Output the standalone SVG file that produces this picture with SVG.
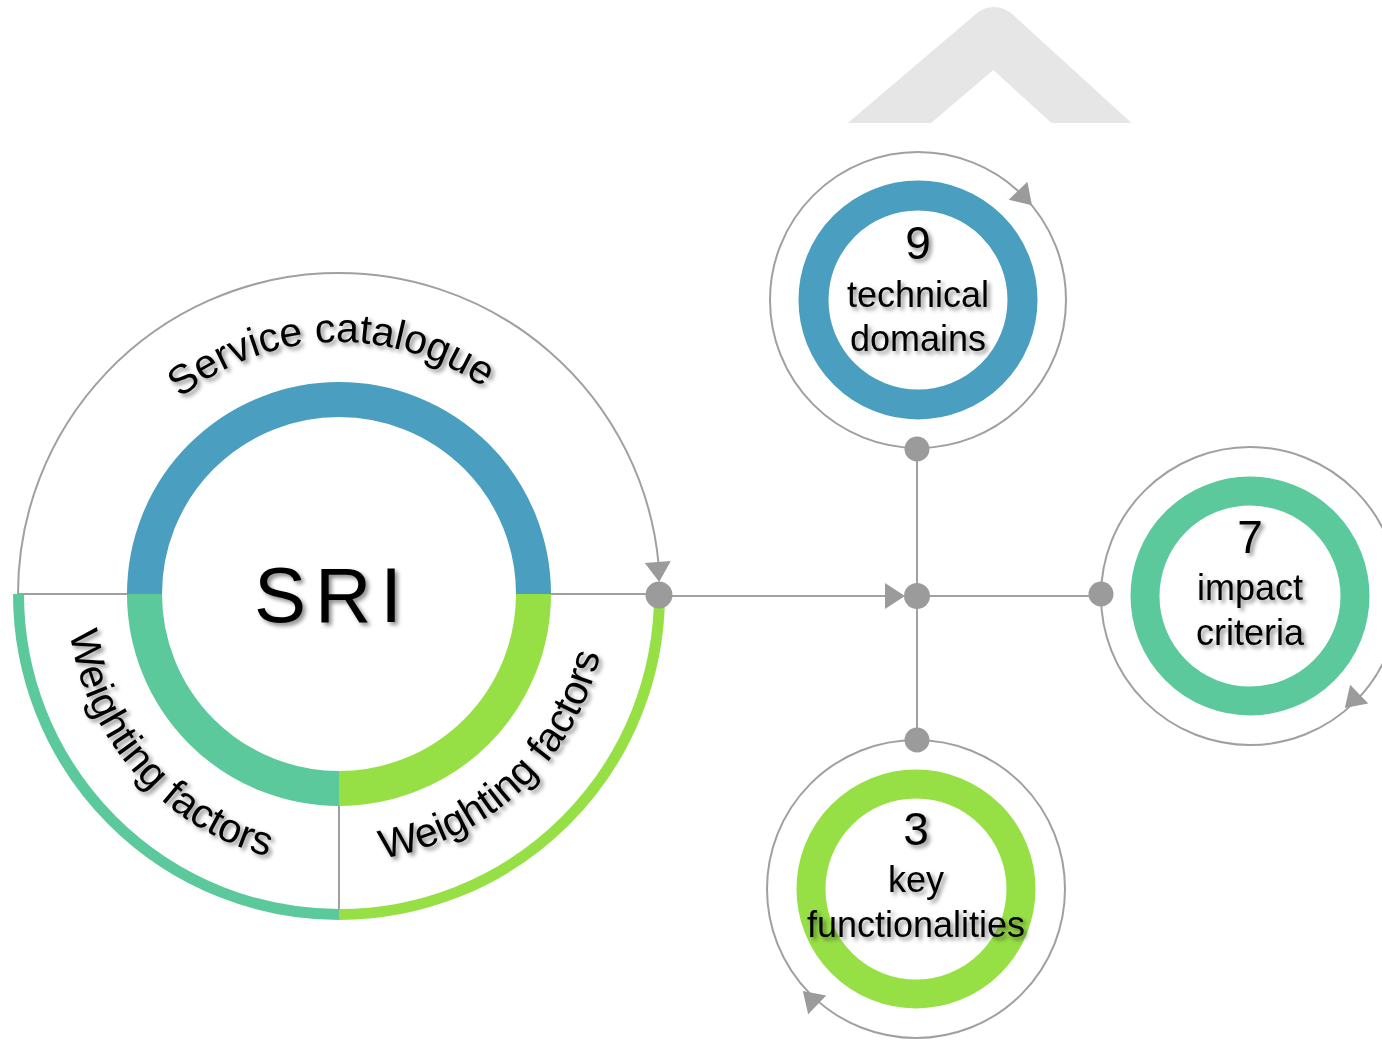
<svg xmlns="http://www.w3.org/2000/svg" width="1382" height="1051" viewBox="0 0 1382 1051">
  <defs>
    <style>
      .thin{fill:none;stroke:#a0a0a0;stroke-width:2}
      .ring{fill:none}
      .blue{stroke:#4a9ebf}
      .teal{stroke:#5bc99b}
      .green{stroke:#96e046}
      .dot{fill:#9b9b9b}
      .lbl{font-family:"Liberation Sans",Arial,sans-serif;fill:#000;filter:url(#shadow)}
    </style>
    <filter id="shadow" x="-20%" y="-20%" width="140%" height="140%">
      <feDropShadow dx="3" dy="3" stdDeviation="2" flood-color="#000" flood-opacity="0.45"/>
    </filter>
    <path id="ah" d="M-10,-13 L10,0 L-10,13 Z" fill="#9b9b9b"/>
    <clipPath id="clipTop"><rect x="0" y="0" width="1382" height="123"/></clipPath>
    <path id="arcSC" d="M87,594 A252,252 0 0 1 591,594"/>
    <path id="arcWL" d="M67,594 A272,272 0 0 0 339,866"/>
    <path id="arcWR" d="M339,862 A268,268 0 0 0 607,594"/>
  </defs>

  <rect width="1382" height="1051" fill="#fff"/>

  <!-- light chevron at the top -->
  <g id="chevron" clip-path="url(#clipTop)">
    <polyline points="846,160 994,34 1132,160" fill="none" stroke="#e6e6e6" stroke-width="54" stroke-linejoin="round"/>
  </g>

  <!-- SRI hub -->
  <g id="sri">
    <path class="thin" d="M18,594 A321,321 0 0 1 658.5,563"/>
    <path class="thin" d="M18,594 H127 M551,594 H659 M339,806 V914"/>
    <path class="ring teal" stroke-width="11" d="M18.5,594 A320.5,320.5 0 0 0 339,914.5"/>
    <path class="ring green" stroke-width="11" d="M339,914.5 A320.5,320.5 0 0 0 659.5,594"/>
    <path class="ring blue" stroke-width="35" d="M144.5,594 A194.5,194.5 0 0 1 533.5,594"/>
    <path class="ring teal" stroke-width="35" d="M144.5,594 A194.5,194.5 0 0 0 339,788.5"/>
    <path class="ring green" stroke-width="35" d="M339,788.5 A194.5,194.5 0 0 0 533.5,594"/>
    <use href="#ah" transform="translate(658.5,572) rotate(86)"/>
    <text class="lbl" font-size="78" letter-spacing="9" x="254" y="622">SRI</text>
    <text class="lbl" font-size="41" text-anchor="middle"><textPath href="#arcSC" startOffset="387">Service catalogue</textPath></text>
    <text class="lbl" font-size="41" text-anchor="middle"><textPath href="#arcWL" startOffset="197">Weighting factors</textPath></text>
    <text class="lbl" font-size="41" text-anchor="middle"><textPath href="#arcWR" startOffset="202">Weighting factors</textPath></text>
  </g>

  <!-- satellite nodes -->
  <g id="node-domains">
    <circle class="thin" cx="918" cy="300" r="148"/>
    <circle class="ring blue" stroke-width="30" cx="918" cy="300" r="104.5"/>
    <use href="#ah" transform="translate(1025,198) rotate(46)"/>
    <text class="lbl" text-anchor="middle"><tspan x="918" y="259" font-size="46">9</tspan><tspan x="918" y="307" font-size="36">technical</tspan><tspan x="918" y="351" font-size="36">domains</tspan></text>
  </g>

  <g id="node-criteria">
    <circle class="thin" cx="1250" cy="596" r="149"/>
    <circle class="ring teal" stroke-width="29" cx="1250" cy="596" r="105"/>
    <use href="#ah" transform="translate(1352,701) rotate(136)"/>
    <text class="lbl" text-anchor="middle"><tspan x="1250" y="553" font-size="46">7</tspan><tspan x="1250" y="600" font-size="36">impact</tspan><tspan x="1250" y="645" font-size="36">criteria</tspan></text>
  </g>

  <g id="node-functionalities">
    <circle class="thin" cx="916" cy="889" r="149"/>
    <circle class="ring green" stroke-width="29" cx="916" cy="889" r="105"/>
    <use href="#ah" transform="translate(810,998) rotate(224)"/>
    <text class="lbl" text-anchor="middle"><tspan x="916" y="845" font-size="46">3</tspan><tspan x="916" y="892" font-size="36">key</tspan><tspan x="916" y="937" font-size="36">functionalities</tspan></text>
  </g>

  <!-- connectors -->
  <g id="connectors">
    <path class="thin" d="M659,596 H886"/>
    <use href="#ah" transform="translate(895,596)"/>
    <path class="thin" d="M917,449 V740 M917,596 H1101"/>
    <circle class="dot" cx="659" cy="595" r="13.5"/>
    <circle class="dot" cx="917" cy="596" r="13"/>
    <circle class="dot" cx="917" cy="449" r="12.5"/>
    <circle class="dot" cx="1101" cy="594" r="12.5"/>
    <circle class="dot" cx="917" cy="740" r="12.5"/>
  </g>
</svg>
